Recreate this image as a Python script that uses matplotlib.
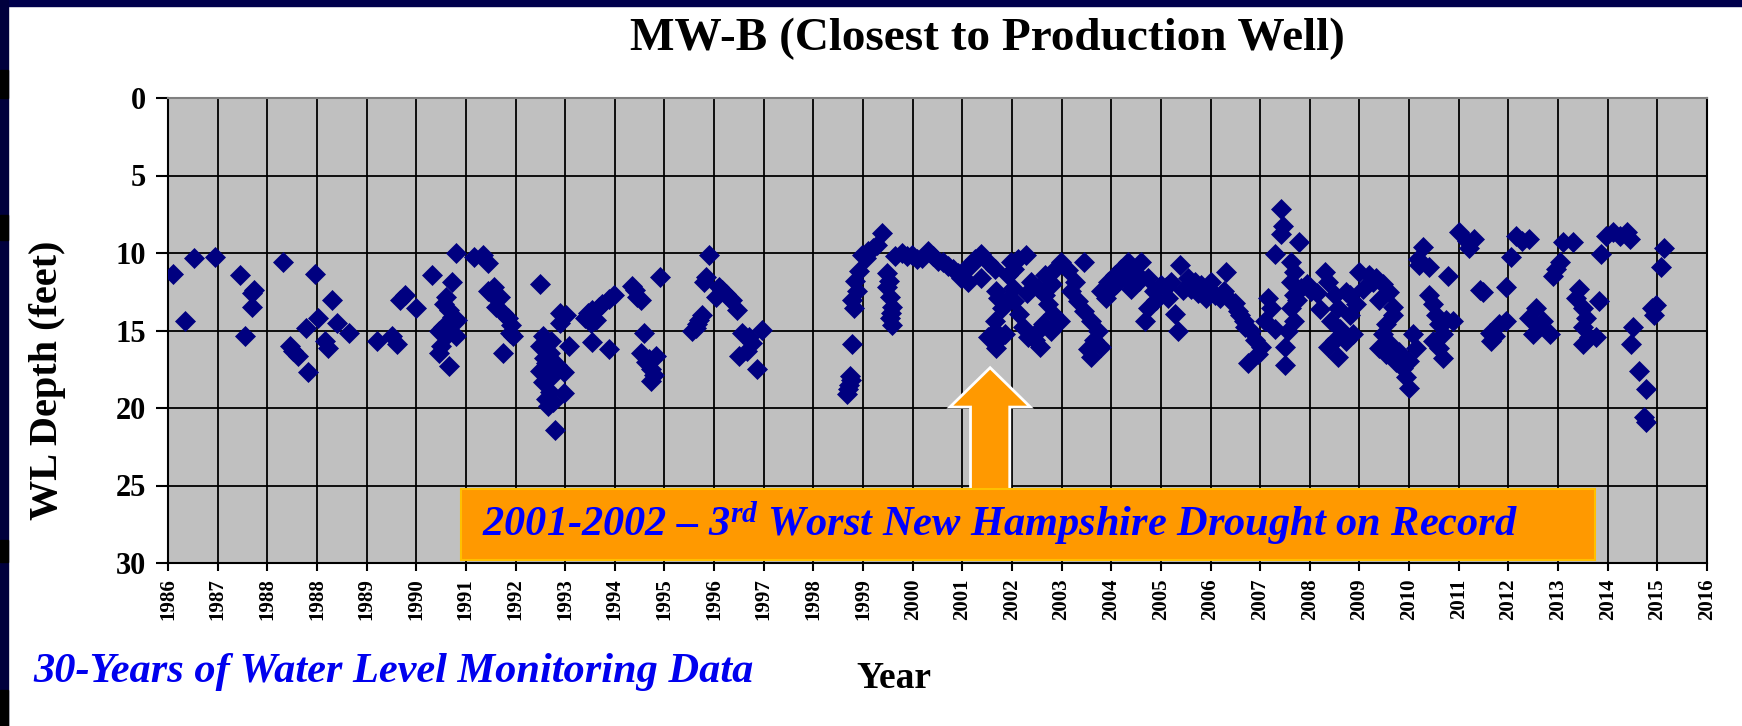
import numpy as np
import matplotlib
matplotlib.use('Agg')
import matplotlib.pyplot as plt
from matplotlib.patches import Polygon, Rectangle

plt.rcParams['font.family'] = ['Liberation Serif', 'DejaVu Serif']
plt.rcParams['mathtext.fontset'] = 'custom'
plt.rcParams['mathtext.it'] = 'Liberation Serif:italic:bold'
plt.rcParams['mathtext.rm'] = 'Liberation Serif:bold'

# water level readings, time as years since Jan 1986 (axis units), depth in feet
t_1986_1993 = [0.11, 0.53, 0.34, 0.95, 1.46, 1.74, 1.70, 1.69, 1.55, 2.32, 2.97, 3.30, 3.03, 2.77,
               2.52, 2.45, 2.62, 2.82, 3.16, 3.23, 3.40, 3.64, 4.21, 4.51, 4.61, 4.68, 4.78, 5.00,
               5.32, 5.72, 5.80, 5.60, 5.56, 5.66, 5.73, 5.53, 5.46, 5.66, 5.60, 5.80, 5.49, 5.46,
               5.66, 5.83, 6.17, 6.34, 6.44, 6.44, 6.57, 6.68, 6.61, 6.74, 6.84, 6.91, 6.88, 6.95,
               6.74, 6.51, 7.50, 7.55, 7.49, 7.69, 7.62, 7.76, 7.55, 7.69, 7.62, 7.76, 7.79, 7.89,
               7.89, 7.58, 7.72, 7.65, 7.83, 7.50, 7.72, 8.01, 8.08, 7.98, 7.98]
d_1986_1993 = [11.33, 10.30, 14.37, 10.27, 11.41, 12.38, 12.60, 13.50, 15.38, 10.57, 11.33, 13.06,
               14.22, 14.85, 16.33, 16.00, 16.65, 17.66, 15.70, 16.10, 14.49, 15.13, 15.70, 15.38,
               15.90, 13.06, 12.74, 13.52, 11.41, 11.84, 10.00, 12.85, 13.27, 13.70, 14.10, 14.75,
               15.06, 15.06, 15.38, 15.38, 16.00, 16.43, 17.28, 14.30, 10.27, 10.10, 10.63, 12.43,
               12.20, 12.85, 13.48, 13.90, 14.22, 14.64, 15.17, 15.38, 16.43, 12.60, 12.00, 15.38,
               16.00, 16.43, 17.07, 17.70, 18.33, 18.97, 19.39, 19.60, 21.40, 13.90, 14.50, 16.80,
               18.00, 19.90, 17.20, 17.60, 15.70, 14.00, 16.00, 17.70, 19.00]

t_1993_2001 = [8.45, 8.55, 8.62, 8.52, 8.75, 8.88, 8.98, 8.55, 8.88, 8.40, 8.68, 9.35, 9.45, 9.52,
               9.40, 9.92, 9.59, 9.52, 9.69, 9.82, 9.72, 9.72, 9.62, 9.78, 10.56, 10.63, 10.69, 10.76,
               10.66, 10.83, 10.89, 10.80, 11.03, 11.09, 11.16, 11.23, 11.30, 11.36, 11.46, 11.56,
               11.66, 11.76, 11.97, 11.50, 11.86, 11.70, 13.74, 13.71, 13.67, 13.77, 13.77, 13.81,
               13.87, 13.84, 13.91, 13.75, 13.70, 13.97, 14.11, 14.05, 14.20, 14.28, 14.38, 14.48,
               14.48, 14.54, 14.58, 14.54, 14.58, 14.52, 14.56, 14.65, 14.78, 14.88, 14.98, 15.08,
               15.18, 15.31, 15.41, 15.51, 15.61, 15.71, 15.81, 15.91, 15.98]
d_1993_2001 = [13.90, 13.70, 14.30, 14.50, 13.27, 12.95, 12.74, 15.76, 16.18, 14.20, 13.50, 12.10,
               12.85, 13.06, 12.40, 11.58, 15.17, 16.43, 16.86, 16.65, 17.49, 18.23, 17.00, 17.90,
               15.06, 14.85, 14.30, 13.98, 14.60, 11.58, 10.10, 11.90, 12.85, 12.20, 12.40, 12.64,
               12.90, 13.06, 13.69, 15.17, 16.33, 15.80, 14.96, 16.65, 17.49, 15.40, 17.91, 18.54,
               19.07, 15.84, 13.06, 13.58, 12.43, 11.79, 11.16, 18.20, 18.80, 10.10, 9.89, 10.30,
               9.70, 9.47, 8.73, 11.27, 12.20, 12.85, 13.48, 14.22, 14.64, 11.80, 13.90, 10.20,
               10.00, 10.20, 10.10, 10.40, 10.30, 9.90, 10.20, 10.50, 10.60, 10.85, 11.00, 11.27,
               11.60]

t_2001_2009 = [16.05, 16.25, 16.38, 16.52, 16.65, 16.11, 16.38, 16.18, 16.72, 16.68, 16.79, 16.65,
               16.65, 16.72, 16.68, 16.52, 16.85, 16.99, 17.12, 17.29, 16.92, 17.05, 17.02, 17.05,
               17.15, 17.22, 17.32, 17.56, 17.46, 17.39, 17.52, 17.66, 17.72, 17.83, 17.62, 17.52,
               17.79, 17.96, 17.66, 17.86, 17.99, 18.13, 18.26, 18.46, 18.19, 18.33, 18.46, 18.60,
               18.73, 18.66, 18.60, 18.80, 18.53, 18.80, 18.93, 19.07, 19.20, 19.34, 19.47, 19.60,
               19.74, 19.87, 19.74, 19.67, 19.00, 19.30, 19.55, 20.01, 20.21, 20.38, 20.54, 20.68,
               20.81, 20.95, 21.08, 20.28, 20.34, 20.14, 20.10, 20.45, 20.75, 21.32, 21.28, 21.42,
               21.55, 21.68, 21.82, 21.89, 21.75, 22.02, 21.60, 21.95, 21.20, 22.42, 22.46, 22.42,
               22.79, 22.29, 22.15, 22.22, 22.09, 22.62, 22.69, 22.62, 22.69, 22.62, 22.69, 22.56,
               22.49, 22.49, 22.83, 23.03, 23.30, 23.36, 23.50, 23.56, 23.43, 23.50, 23.36, 23.56,
               22.95, 23.15, 18.90, 19.10, 19.40, 19.90, 20.60, 20.90, 21.00, 21.50, 21.70, 17.30,
               17.80, 16.90, 22.30, 22.75, 23.20, 23.60]
d_2001_2009 = [11.00, 10.36, 10.04, 10.57, 11.00, 11.84, 11.62, 10.80, 12.89, 12.47, 13.52, 14.37,
               15.00, 15.63, 16.16, 15.40, 15.20, 10.57, 10.36, 10.15, 11.41, 11.00, 12.26, 13.10,
               13.95, 14.79, 15.42, 16.05, 15.63, 11.84, 12.26, 12.68, 13.31, 13.95, 14.58, 15.00,
               15.00, 14.37, 11.41, 11.00, 10.57, 11.10, 11.84, 10.57, 12.47, 13.10, 13.73, 14.37,
               15.00, 15.63, 16.69, 16.05, 16.20, 12.47, 11.84, 11.41, 11.00, 10.57, 11.20, 10.57,
               11.62, 12.47, 13.52, 14.37, 12.30, 11.60, 11.80, 12.05, 11.84, 10.78, 11.62, 11.84,
               12.05, 12.26, 12.68, 13.95, 15.00, 12.89, 12.20, 12.40, 12.60, 11.20, 12.47, 13.10,
               13.73, 14.37, 15.00, 15.63, 17.10, 16.05, 14.00, 16.50, 12.90, 7.19, 8.25, 8.78,
               9.30, 10.04, 12.89, 13.52, 14.37, 10.57, 11.20, 11.84, 12.68, 13.52, 14.37, 15.00,
               16.05, 17.20, 12.26, 12.47, 11.20, 11.84, 12.68, 13.52, 14.37, 15.63, 16.05, 16.69,
               12.00, 12.60, 12.90, 12.00, 12.30, 13.00, 12.30, 12.90, 11.90, 13.20, 14.80, 12.60,
               12.00, 13.00, 14.90, 13.00, 13.60, 14.90]

t_2009_2016 = [23.73, 23.80, 23.73, 23.87, 23.80, 23.93, 24.00, 24.20, 24.34, 24.47, 24.60, 24.67,
               24.54, 24.47, 24.40, 24.54, 24.74, 24.87, 24.94, 25.00, 24.67, 24.27, 24.07, 24.60,
               24.80, 24.40, 25.07, 25.14, 25.00, 25.27, 25.20, 25.40, 25.17, 25.78, 25.40, 25.48,
               25.54, 25.61, 25.68, 25.61, 25.68, 25.48, 25.74, 25.88, 26.01, 26.17, 26.30, 26.20,
               26.42, 26.48, 26.62, 26.65, 26.82, 26.95, 26.72, 26.95, 27.15, 27.28, 27.42, 27.05,
               27.42, 27.55, 27.69, 27.49, 27.83, 27.62, 28.09, 28.30, 28.03, 27.96, 27.89, 28.43,
               28.36, 28.50, 28.57, 28.50, 28.63, 28.50, 28.77, 28.83, 28.87, 28.97, 29.11, 29.24,
               29.38, 29.44, 29.50, 29.47, 29.64, 29.77, 29.74, 29.78, 29.90, 29.93, 29.97, 30.07,
               30.14]
d_2009_2016 = [12.50, 14.00, 15.70, 15.25, 12.70, 13.30, 11.20, 11.40, 11.60, 12.00, 12.50, 13.50,
               14.60, 15.25, 16.10, 16.50, 17.00, 17.40, 18.00, 18.70, 14.00, 11.85, 12.30, 15.80,
               16.40, 13.00, 15.25, 16.10, 16.95, 9.60, 10.80, 10.90, 10.36, 11.50, 12.70, 13.30,
               14.00, 14.60, 15.25, 16.10, 16.75, 15.70, 14.30, 14.40, 8.66, 9.20, 9.10, 9.70,
               12.40, 12.50, 15.15, 15.70, 14.60, 14.40, 15.35, 12.20, 8.90, 9.20, 9.10, 10.25,
               14.20, 13.55, 14.40, 15.25, 15.25, 14.80, 9.30, 9.30, 10.60, 11.00, 11.50, 12.30,
               12.90, 13.55, 14.20, 14.80, 15.45, 15.90, 15.45, 13.10, 10.05, 8.90, 8.66, 8.90,
               8.66, 9.10, 14.80, 15.90, 17.60, 18.77, 20.60, 20.90, 13.55, 14.00, 13.35, 10.90,
               9.70]

tick_labels = ['1986', '1987', '1988', '1988'] + [str(y) for y in range(1989, 2017)]
depth_ticks = [0, 5, 10, 15, 20, 25, 30]

t = np.array(t_1986_1993 + t_1993_2001 + t_2001_2009 + t_2009_2016)
depth = np.array(d_1986_1993 + d_1993_2001 + d_2001_2009 + d_2009_2016)
x = 1986 + t

W, H = 1742, 726
fig = plt.figure(figsize=(W / 100, H / 100), dpi=100)
fig.patch.set_facecolor('white')

# slide frame: dark strip on top and left
fig.patches.append(Rectangle((0, 1 - 6 / H), 1, 6 / H, transform=fig.transFigure,
                             color='#00004d', zorder=0))
fig.patches.append(Rectangle((0, 0), 8 / W, 1, transform=fig.transFigure,
                             color='#00003d', zorder=0))
for y0, h in [(70, 28), (215, 25), (540, 22), (690, 36)]:
    fig.patches.append(Rectangle((0, 1 - (y0 + h) / H), 8 / W, h / H, transform=fig.transFigure,
                                 color='#000000', zorder=1))

ax = fig.add_axes([168 / W, 1 - 563 / H, (1707 - 168) / W, (563 - 98) / H])
ax.set_facecolor('#c0c0c0')
ax.set_axisbelow(True)
ax.grid(True, color='black', linewidth=1.3)

ax.plot(x, depth, linestyle='none', marker='D', ms=10, color='#000080',
        markeredgecolor='#000080', markeredgewidth=0.5, zorder=3)

ax.set_xlim(1986, 2017)
ax.set_ylim(30, 0)
ax.set_xticks(np.arange(1986, 2018))
ax.set_xticklabels(tick_labels, rotation=90, fontsize=15, fontweight='bold')
ax.set_yticks(depth_ticks)
ax.set_yticklabels([str(v) for v in depth_ticks], fontsize=22, fontweight='bold')
ax.tick_params(axis='y', length=9, width=1.5, pad=7)
ax.tick_params(axis='x', length=6, width=1.5, pad=5)
for s in ['left', 'bottom', 'right']:
    ax.spines[s].set_color('black')
    ax.spines[s].set_linewidth(1.5)
ax.spines['top'].set_color('#808080')
ax.spines['top'].set_linewidth(1.5)

# drought arrow and banner
ax_x = 2002.56
arrow = Polygon([(ax_x, 17.4), (ax_x + 0.81, 19.94), (ax_x + 0.395, 19.94),
                 (ax_x + 0.395, 25.3), (ax_x - 0.395, 25.3), (ax_x - 0.395, 19.94),
                 (ax_x - 0.81, 19.94)], closed=True, facecolor='#ff9900',
                edgecolor='white', linewidth=2, zorder=4)
ax.add_patch(arrow)
ax.add_patch(Rectangle((1991.90, 25.2), 22.85, 4.6, facecolor='#ff9900',
                       edgecolor='#ffc000', linewidth=1.5, zorder=5))
ax.text(1992.32, 27.45, r'2001-2002 – 3$^{rd}$ Worst New Hampshire Drought on Record',
        fontsize=30.5, fontweight='bold', fontstyle='italic', color='#0000ff',
        ha='left', va='center', zorder=6)

fig.text(987 / W, 1 - 39 / H, 'MW-B (Closest to Production Well)', fontsize=34,
         fontweight='bold', ha='center', va='center')
fig.text(48 / W, 1 - 380 / H, 'WL Depth (feet)', fontsize=29, fontweight='bold',
         rotation=90, ha='center', va='center')
fig.text(894 / W, 1 - 678 / H, 'Year', fontsize=27, fontweight='bold',
         ha='center', va='center')
fig.text(33 / W, 1 - 672 / H, '30-Years of Water Level Monitoring Data', fontsize=30.5,
         fontweight='bold', fontstyle='italic', color='#0000ee', ha='left', va='center')

fig.savefig('out.png', dpi=100, facecolor=fig.get_facecolor())
